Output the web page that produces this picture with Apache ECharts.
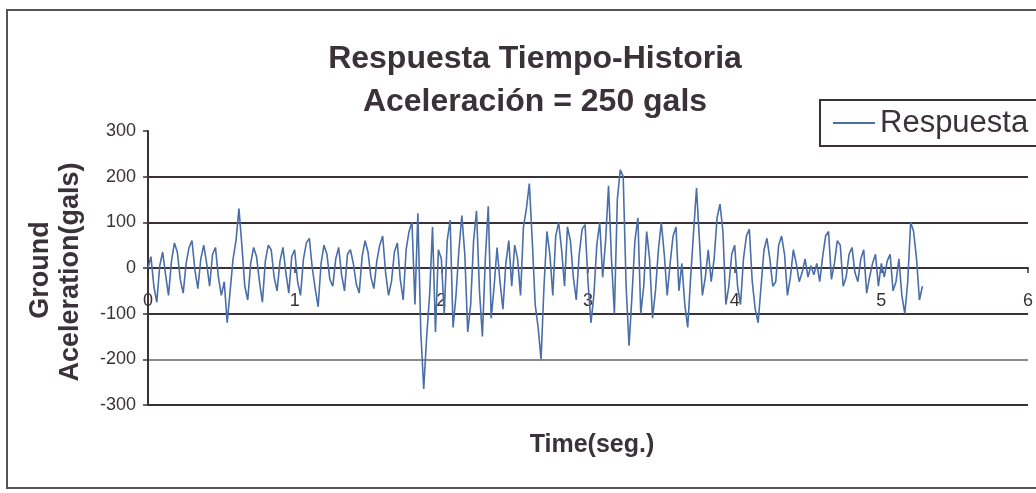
<!DOCTYPE html>
<html>
<head>
<meta charset="utf-8">
<script src="https://cdn.jsdelivr.net/npm/echarts@6/dist/echarts.min.js"></script>
<style>
html,body{margin:0;padding:0;background:#fff;}
#chart{width:1036px;height:493px;}
</style>
</head>
<body>
<div id="chart"></div>
<script>
// ---- data ----
const titleLines = ['Respuesta Tiempo-Historia', 'Aceleración = 250 gals'];
const seriesName = 'Respuesta';
const xAxisTitle = 'Time(seg.)';
const yAxisTitle = ['Ground', 'Aceleration(gals)'];
const timeStep = 0.02; // seconds between samples
const xTicks = [0, 1, 2, 3, 4, 5, 6];
const yTicks = [-300, -200, -100, 0, 100, 200, 300];
const acceleration = [
  // 0.00 - 0.98 s
  0, 25, -40, -75, 5, 35, -15, -60, 15, 55,
  35, -25, -55, 10, 45, 60, -5, -45, 20, 50,
  10, -40, 30, 45, -20, -60, -30, -120, -50, 20,
  60, 130, 50, -40, -70, 10, 45, 25, -30, -75,
  15, 50, 40, -20, -50, 15, 45, -10, -55, 25,
  // 1.00 - 1.98 s
  40, -30, -60, 20, 55, 65, 0, -45, -85, 10,
  50, 30, -25, -40, 20, 45, -15, -50, 30, 40,
  10, -35, -55, 25, 60, 35, -20, -45, 15, 50,
  70, -10, -60, -30, 35, 55, -25, -70, 40, 80,
  100, -80, 120, -140, -265, -150, -60, 90, -140, 40,
  // 2.00 - 2.98 s
  20, -100, 60, 105, -130, -60, 40, 115, 30, -140,
  -80, 60, 125, -50, -150, 20, 135, -110, -40, 45,
  -30, -90, 10, 60, -40, 50, 20, -60, 90, 130,
  185, 60, -80, -130, -200, -40, 80, 30, -60, 70,
  100, 40, -40, 90, 60, -20, -70, 30, 85, 95,
  // 3.00 - 3.98 s
  -30, -120, -60, 50, 100, -20, 60, 180, 20, -100,
  150, 215, 200, -40, -170, -60, 60, 110, -100, -40,
  80, 20, -110, -50, 40, 100, 30, -60, 10, 70,
  90, -50, 10, -80, -130, -20, 80, 175, 60, -60,
  -20, 40, -30, 20, 110, 140, 80, -80, -40, 30,
  // 4.00 - 4.98 s
  50, -40, -80, 20, 70, 85, -30, -90, -120, -40,
  40, 65, 20, -40, -30, 50, 70, 30, -60, -20,
  40, 10, -30, -10, 20, -20, 5, -15, 10, -30,
  25, 70, 80, -25, 10, 60, 50, -40, -20, 30,
  45, -10, -30, 20, 40, -55, -20, 10, 30, -40,
  // 5.00 - 5.28 s
  10, -20, 15, 30, -50, -30, 20, -60, -100, -30,
  100, 80, 20, -70, -40
];

const seriesData = acceleration.map((v, i) => [+(i * timeStep).toFixed(2), v]);

const dark = '#3a3238';
const ff = 'Liberation Sans, Arial, sans-serif';
const chart = echarts.init(document.getElementById('chart'));
chart.setOption({
  backgroundColor: '#ffffff',
  animation: false,
  textStyle: { fontFamily: ff },
  title: {
    text: titleLines.join('\n'),
    left: 530, textAlign: 'center', top: 33,
    textStyle: { fontSize: 32, fontWeight: 'bold', color: dark, lineHeight: 43, fontFamily: ff }
  },
  legend: {
    data: [seriesName],
    left: 820, top: 100,
    padding: [6, 30, 6, 13],
    borderColor: dark, borderWidth: 2, borderRadius: 0,
    backgroundColor: '#fff',
    icon: 'rect', itemWidth: 42, itemHeight: 2, itemGap: 5,
    textStyle: { fontSize: 31, color: dark, lineHeight: 34, padding: [0, 0, 0, 0] }
  },
  grid: { left: 148, right: 6, top: 131, bottom: 88, containLabel: false },
  xAxis: {
    type: 'value', min: xTicks[0], max: xTicks[xTicks.length - 1], interval: 1,
    axisLine: { show: true, onZero: true, lineStyle: { color: dark, width: 2 } },
    axisTick: { show: true, length: 5, lineStyle: { color: dark, width: 1.5 } },
    axisLabel: { fontSize: 18, color: dark, margin: -113 },
    splitLine: { show: false }
  },
  yAxis: {
    type: 'value', min: yTicks[0], max: yTicks[yTicks.length - 1], interval: 100,
    axisLine: { show: true, lineStyle: { color: dark, width: 2 } },
    axisTick: { show: true, length: 5, lineStyle: { color: dark, width: 1.5 } },
    axisLabel: { fontSize: 18, color: dark, margin: 12 },
    splitLine: {
      show: true,
      lineStyle: { width: 2, color: [dark, '#8c8a8c', dark, dark, dark, dark, 'rgba(0,0,0,0)'] }
    }
  },
  graphic: [
    { type: 'rect', shape: { x: 7, y: 10, width: 1040, height: 478 }, style: { fill: 'none', stroke: '#555', lineWidth: 2 }, z: -1, silent: true },
    { type: 'text', x: 41, y: 270, rotation: Math.PI / 2, style: { text: yAxisTitle[0], font: 'bold 27px ' + ff, fill: dark, align: 'center', verticalAlign: 'middle' } },
    { type: 'text', x: 71, y: 272, rotation: Math.PI / 2, style: { text: yAxisTitle[1], font: 'bold 27px ' + ff, fill: dark, align: 'center', verticalAlign: 'middle' } },
    { type: 'text', x: 592, y: 445, style: { text: xAxisTitle, font: 'bold 25px ' + ff, fill: dark, align: 'center', verticalAlign: 'middle' } }
  ],
  series: [{
    name: seriesName, type: 'line', data: seriesData,
    showSymbol: false, smooth: false,
    lineStyle: { color: '#4a6ea8', width: 1.6 },
    itemStyle: { color: '#4a6ea8' }
  }]
});
</script>
</body>
</html>
